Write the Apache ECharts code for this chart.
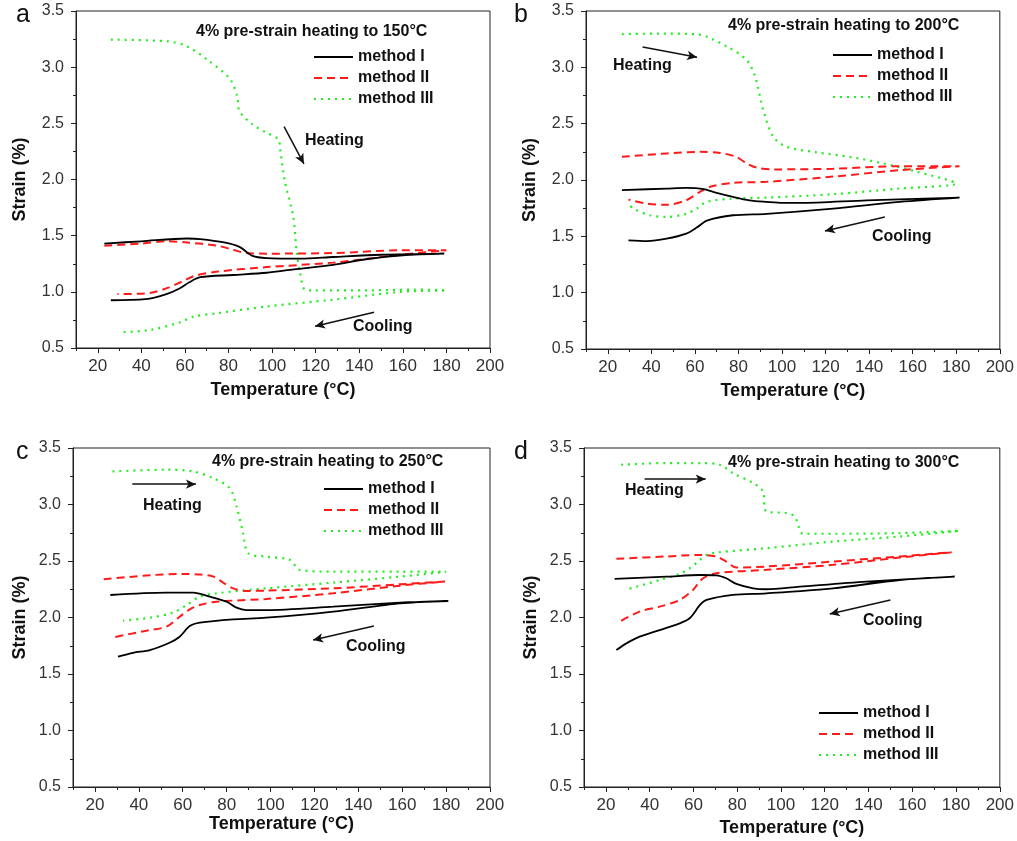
<!DOCTYPE html>
<html>
<head>
<meta charset="utf-8">
<script src="https://cdn.jsdelivr.net/npm/echarts@6/dist/echarts.min.js"></script>
<style>
  html, body { margin: 0; padding: 0; background: #fff; }
  #chart { width: 1017px; height: 841px; }
</style>
</head>
<body>
<div id="chart"></div>
<script>
// tick values
const xMajor = [20, 40, 60, 80, 100, 120, 140, 160, 180, 200]
const xMinor = [10, 30, 50, 70, 90, 110, 130, 150, 170, 190]
const methodNames = ['method I', 'method II', 'method III']
const panelTitles = [
  '4% pre-strain heating to 150°C',
  '4% pre-strain heating to 200°C',
  '4% pre-strain heating to 250°C',
  '4% pre-strain heating to 300°C'
]

// panel a (150°C) - heating then cooling, [temperature, strain]
const aMethod1 = [[23, 1.43], [40, 1.45], [61, 1.475], [67, 1.47], [78, 1.44], [85, 1.40], [91, 1.32], [97.5, 1.30], [113, 1.295], [128, 1.31], [150, 1.33], [179, 1.34],
  [160, 1.325], [143, 1.29], [128, 1.24], [110, 1.20], [97.5, 1.17], [82, 1.15], [67, 1.13], [62, 1.085], [57.5, 1.03], [51.5, 0.98], [42, 0.935], [26, 0.925]]
const aMethod2 = [[23, 1.41], [40, 1.43], [52, 1.45], [61, 1.44], [75, 1.41], [82, 1.375], [88, 1.345], [97.5, 1.34], [128, 1.345], [159, 1.37], [180, 1.37],
  [159, 1.33], [128, 1.26], [97.5, 1.22], [75, 1.18], [64, 1.14], [58.5, 1.09], [52, 1.035], [44, 0.99], [29, 0.98]]
const aMethod3 = [[26, 3.245], [52, 3.23], [61, 3.185], [70, 3.07], [80.5, 2.90], [84, 2.74], [85, 2.61], [91, 2.49], [97.5, 2.415], [103, 2.355], [103.6, 2.28], [106, 1.97], [109.7, 1.67], [111.3, 1.35], [112.8, 1.17], [115, 1.02], [119, 1.013], [143, 1.013], [165, 1.02], [180, 1.013],
  [159, 1.0], [128, 0.93], [97.5, 0.87], [75, 0.81], [64, 0.78], [58, 0.73], [44, 0.66], [30, 0.64]]

// panel b (200°C)
const bMethod1 = [[26.5, 1.91], [47, 1.924], [56, 1.93], [64, 1.92], [70, 1.886], [77.5, 1.85], [85, 1.82], [93, 1.806], [100.5, 1.797], [108, 1.797], [139, 1.82], [181.5, 1.844],
  [154, 1.806], [123.5, 1.746], [93, 1.70], [77.5, 1.687], [65.5, 1.64], [61, 1.58], [56, 1.524], [47, 1.479], [38, 1.458], [29.5, 1.464]]
const bMethod2 = [[26.5, 2.206], [47, 2.236], [62, 2.25], [71.5, 2.24], [79, 2.206], [83.7, 2.147], [88.3, 2.11], [96, 2.094], [123.5, 2.10], [154, 2.123], [181.5, 2.123],
  [154, 2.087], [123.5, 2.03], [93, 1.984], [77.5, 1.975], [67, 1.94], [62.3, 1.895], [56, 1.82], [47, 1.78], [38, 1.79], [29.5, 1.826]]
const bMethod3 = [[26.5, 3.295], [47, 3.30], [62, 3.29], [74.5, 3.186], [83.7, 3.067], [87.6, 2.92], [91.4, 2.62], [96, 2.384], [102, 2.295], [116, 2.245], [131, 2.206], [146.5, 2.147], [162, 2.073], [180, 1.969],
  [154, 1.924], [123.5, 1.874], [93, 1.844], [77.5, 1.835], [65.4, 1.806], [60.8, 1.746], [56, 1.70], [47, 1.672], [39.4, 1.687], [31.7, 1.746], [30.2, 1.776]]

// panel c (250°C)
const cMethod1 = [[27, 2.199], [52.5, 2.22], [64.7, 2.22], [72.3, 2.185], [80, 2.14], [84.5, 2.087], [89, 2.066], [98, 2.066], [128.6, 2.096], [159, 2.131], [181, 2.146],
  [159, 2.125], [128.6, 2.052], [98, 1.998], [83, 1.984], [67.8, 1.954], [63.2, 1.924], [58.6, 1.83], [54, 1.777], [45, 1.712], [37.4, 1.688], [30.5, 1.653]]
const cMethod2 = [[24, 2.338], [45, 2.374], [60, 2.386], [68, 2.38], [74, 2.362], [78.4, 2.309], [83, 2.258], [89, 2.235], [98, 2.238], [128.6, 2.258], [159, 2.294], [179.5, 2.318],
  [159, 2.282], [128.6, 2.214], [98, 2.164], [75.4, 2.14], [67.8, 2.11], [63.2, 2.072], [58.6, 2.007], [52.6, 1.919], [43.4, 1.883], [28.2, 1.824]]
const cMethod3 = [[28, 3.293], [52.6, 3.308], [64.7, 3.293], [73.8, 3.234], [81.4, 3.145], [84.5, 2.983], [87.5, 2.746], [89.8, 2.569], [98, 2.539], [108.8, 2.51], [113.4, 2.421], [128.6, 2.406], [159, 2.406], [180, 2.406],
  [159, 2.362], [128.6, 2.309], [98, 2.258], [75.4, 2.214], [67.8, 2.185], [61.7, 2.11], [55.6, 2.043], [45, 1.998], [32.8, 1.972]]

// panel d (300°C)
const dMethod1 = [[24, 2.341], [47.6, 2.361], [63, 2.376], [70.5, 2.373], [75, 2.347], [79.6, 2.297], [87.3, 2.258], [93.3, 2.25], [108.6, 2.273], [139, 2.318], [179.4, 2.362],
  [154.3, 2.332], [123.8, 2.258], [93.3, 2.214], [78, 2.2], [66, 2.155], [63, 2.111], [58.3, 1.993], [53.7, 1.948], [44.6, 1.889], [35.4, 1.83], [29.4, 1.771], [24.8, 1.712]]
const dMethod2 = [[24.8, 2.519], [47.6, 2.54], [63, 2.554], [70.5, 2.54], [75, 2.495], [79.6, 2.442], [93.3, 2.451], [123.8, 2.495], [154.3, 2.54], [178, 2.578],
  [154.3, 2.53], [123.8, 2.466], [93.3, 2.422], [70.5, 2.392], [64.4, 2.347], [59.8, 2.244], [53.7, 2.155], [44.6, 2.096], [35.4, 2.052], [25.5, 1.954]]
const dMethod3 = [[27, 3.352], [47.6, 3.367], [63, 3.367], [72, 3.352], [78, 3.278], [87.3, 3.19], [91.8, 3.116], [93.3, 2.939], [102.5, 2.924], [106.3, 2.894], [108.6, 2.776], [110, 2.741], [123.8, 2.741], [154.3, 2.747], [181.7, 2.767],
  [154.3, 2.717], [123.8, 2.672], [93.3, 2.613], [70.5, 2.575], [66, 2.554], [63, 2.51], [58.3, 2.436], [53.7, 2.386], [44.6, 2.332], [30, 2.25]]

// heating / cooling arrows, [from, to] in data coordinates
const heatArrows = [
  [[105.5, 2.47], [114.6, 2.14]],
  [[36, 3.18], [61, 3.09]],
  [[37, 3.18], [66, 3.18]],
  [[37.7, 3.225], [65.6, 3.225]]
]
const coolArrows = [
  [[146.8, 0.818], [119.7, 0.693]],
  [[147.2, 1.672], [119.7, 1.547]],
  [[147.1, 1.924], [119.4, 1.80]],
  [[150, 2.155], [122.3, 2.031]]
]

const panelData = [
  [aMethod1, aMethod2, aMethod3],
  [bMethod1, bMethod2, bMethod3],
  [cMethod1, cMethod2, cMethod3],
  [dMethod1, dMethod2, dMethod3]
]

const FONT = 'Liberation Sans, Arial, sans-serif'

// layout of the four panels (pixels)
const grids = [
  { left: 76, top: 11, width: 414, height: 337 },
  { left: 586, top: 11, width: 414, height: 338 },
  { left: 73, top: 448, width: 417, height: 339 },
  { left: 584, top: 448, width: 416, height: 339 }
]
const xNameGap = [33, 33, 26, 32]
const yNameGap = [47, 47, 44, 44]
const letters = [
  { text: 'a', left: 16, top: 3 },
  { text: 'b', left: 514, top: 3 },
  { text: 'c', left: 16, top: 440 },
  { text: 'd', left: 514, top: 440 }
]
const titlePos = [
  { left: 196, top: 24 },
  { left: 728, top: 18 },
  { left: 212, top: 454 },
  { left: 728, top: 455 }
]
const heatPos = [
  { left: 305, top: 133 }, { left: 613, top: 58 }, { left: 143, top: 498 }, { left: 625, top: 483 }
]
const coolPos = [
  { left: 353, top: 319 }, { left: 872, top: 229 }, { left: 346, top: 639 }, { left: 863, top: 613 }
]
const legendPos = [
  { left: 313, top: 49 }, { left: 832, top: 47 }, { left: 323, top: 481 }, { left: 818, top: 705 }
]

const lineStyles = [
  { color: '#000000', width: 1.8, type: 'solid' },
  { color: '#ff1a1a', width: 2, type: [8, 5] },
  { color: '#22ee22', width: 2.2, type: [2, 5] }
]

const option = {
  animation: false,
  backgroundColor: '#ffffff',
  title: [],
  legend: [],
  grid: [],
  xAxis: [],
  yAxis: [],
  series: []
}

for (let i = 0; i < 4; i++) {
  option.grid.push(Object.assign({ show: true, borderColor: '#222', borderWidth: 1, containLabel: false }, grids[i]))

  // main x axis with labels and long ticks
  option.xAxis.push({
    type: 'value',
    gridIndex: i,
    min: 10,
    max: 200,
    interval: 10,
    name: 'Temperature (°C)',
    nameLocation: 'middle',
    nameGap: xNameGap[i],
    nameTextStyle: { fontFamily: FONT, fontSize: 18, fontWeight: 'bold', color: '#111' },
    axisLine: { show: true, lineStyle: { color: '#222', width: 1 } },
    axisTick: { show: true, length: 5, customValues: xMajor, lineStyle: { color: '#222' } },
    axisLabel: { show: true, customValues: xMajor, margin: 10, fontFamily: FONT, fontSize: 17, color: '#333' },
    splitLine: { show: false }
  })
  // overlay x axis carrying the short minor ticks
  option.xAxis.push({
    type: 'value',
    gridIndex: i,
    position: 'bottom',
    min: 10,
    max: 200,
    interval: 10,
    axisLine: { show: false },
    axisTick: { show: true, length: 3, customValues: xMinor, lineStyle: { color: '#222' } },
    axisLabel: { show: false },
    splitLine: { show: false }
  })

  option.yAxis.push({
    type: 'value',
    gridIndex: i,
    min: 0.5,
    max: 3.5,
    interval: 0.5,
    name: 'Strain (%)',
    nameLocation: 'middle',
    nameGap: yNameGap[i],
    nameTextStyle: { fontFamily: FONT, fontSize: 18, fontWeight: 'bold', color: '#111' },
    axisLine: { show: true, lineStyle: { color: '#222', width: 1 } },
    axisTick: { show: true, length: 5, lineStyle: { color: '#222' } },
    minorTick: { show: true, splitNumber: 2, length: 3, lineStyle: { color: '#222' } },
    axisLabel: { margin: 12, fontFamily: FONT, fontSize: 16, color: '#333', formatter: v => v.toFixed(1) },
    splitLine: { show: false }
  })

  for (let m = 0; m < 3; m++) {
    const s = {
      name: methodNames[m],
      type: 'line',
      xAxisIndex: i * 2,
      yAxisIndex: i,
      data: panelData[i][m],
      symbol: 'none',
      showSymbol: false,
      smooth: 0.3,
      lineStyle: lineStyles[m],
      itemStyle: { color: lineStyles[m].color },
      z: 3 - m
    }
    if (m === 0) {
      // heating / cooling arrows
      s.markLine = {
        silent: true,
        symbol: ['none', 'arrow'],
        symbolSize: [7, 10],
        label: { show: false },
        lineStyle: { color: '#111', width: 1.5, type: 'solid' },
        data: [
          [{ coord: heatArrows[i][0] }, { coord: heatArrows[i][1] }],
          [{ coord: coolArrows[i][0] }, { coord: coolArrows[i][1] }]
        ]
      }
    }
    option.series.push(s)
  }

  option.legend.push({
    data: methodNames,
    orient: 'vertical',
    left: legendPos[i].left,
    top: legendPos[i].top,
    padding: 0,
    itemWidth: 39,
    itemHeight: 14,
    itemGap: 5,
    selectedMode: false,
    itemStyle: { opacity: 0 },
    textStyle: { fontFamily: FONT, fontSize: 16, fontWeight: 'bold', color: '#111' }
  })

  option.title.push({
    text: letters[i].text,
    left: letters[i].left,
    top: letters[i].top,
    padding: 0,
    textStyle: { fontFamily: FONT, fontSize: 25, fontWeight: 'normal', color: '#111' }
  })
  option.title.push({
    text: panelTitles[i],
    left: titlePos[i].left,
    top: titlePos[i].top,
    padding: 0,
    textStyle: { fontFamily: FONT, fontSize: 16, fontWeight: 'bold', color: '#111' }
  })
  option.title.push({
    text: 'Heating',
    left: heatPos[i].left,
    top: heatPos[i].top,
    padding: 0,
    textStyle: { fontFamily: FONT, fontSize: 16, fontWeight: 'bold', color: '#111' }
  })
  option.title.push({
    text: 'Cooling',
    left: coolPos[i].left,
    top: coolPos[i].top,
    padding: 0,
    textStyle: { fontFamily: FONT, fontSize: 16, fontWeight: 'bold', color: '#111' }
  })
}

const myChart = echarts.init(document.getElementById('chart'))
myChart.setOption(option)
</script>
</body>
</html>
